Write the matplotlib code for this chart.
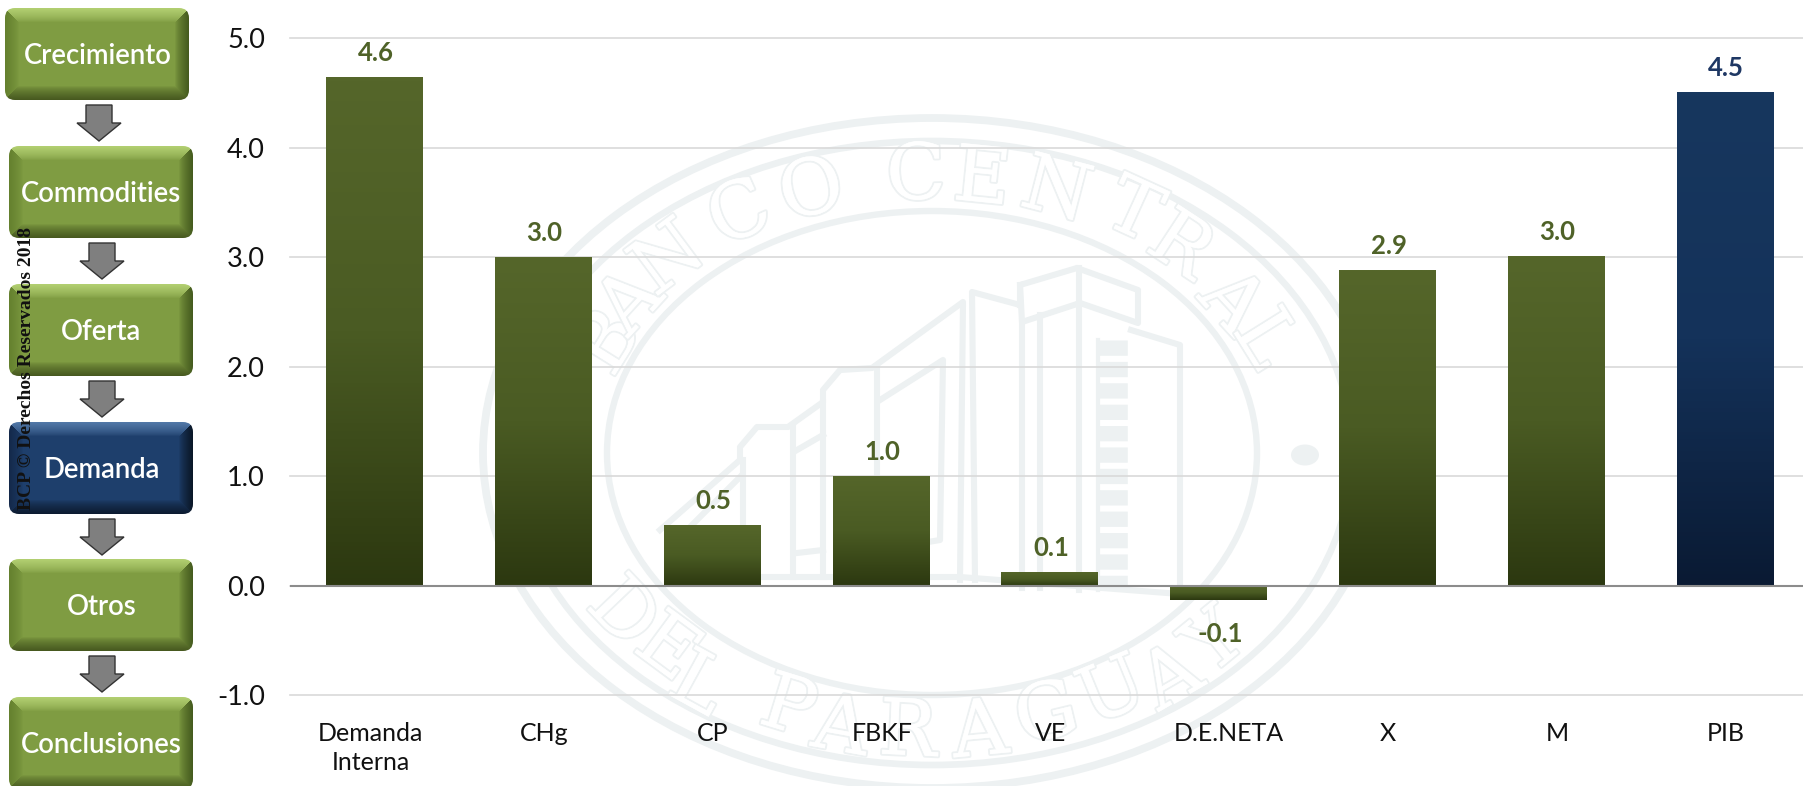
import numpy as np
import matplotlib
matplotlib.use("Agg")
import matplotlib.pyplot as plt
import matplotlib.patheffects as pe
from matplotlib.patches import Ellipse, FancyBboxPatch, Polygon
from matplotlib.colors import LinearSegmentedColormap, to_rgb
from matplotlib.transforms import ScaledTranslation

# ---- data ----
categories = ["Demanda\nInterna", "CHg", "CP", "FBKF", "VE", "D.E.NETA", "X", "M", "PIB"]
values = [4.64, 3.00, 0.55, 1.00, 0.12, -0.13, 2.88, 3.01, 4.51]
value_labels = ["4.6", "3.0", "0.5", "1.0", "0.1", "-0.1", "2.9", "3.0", "4.5"]
highlight = ["PIB"]
yticks = [-1, 0, 1, 2, 3, 4, 5]
nav_labels = ["Crecimiento", "Commodities", "Oferta", "Demanda", "Otros", "Conclusiones"]
nav_active = "Demanda"

W, H = 1803, 786
FONT = "Lato"
plt.rcParams["font.family"] = [FONT, "DejaVu Sans"]
fig = plt.figure(figsize=(W / 100, H / 100), dpi=100, facecolor="white")


def add_px_axes(z):
    a = fig.add_axes([0, 0, 1, 1], zorder=z)
    a.set_xlim(0, W)
    a.set_ylim(H, 0)
    a.axis("off")
    return a


# ---- seal watermark ----
bg = add_px_axes(0)
SEAL = "#EDF1F2"
cx, cy = 932, 453
for rx, ry, lw in [(449, 335, 5.6), (420, 312, 4.8), (325, 242, 4.6)]:
    bg.add_patch(Ellipse((cx, cy), 2 * rx, 2 * ry, fill=False, ec=SEAL, lw=lw))
bg.add_patch(Ellipse((1305, 455), 28, 21, fc=SEAL, ec="none"))

top_letters = [("B", 609, 343), ("A", 631, 303), ("N", 669, 260), ("C", 740, 215), ("O", 812, 192), ("C", 916, 177),
               ("E", 982, 180), ("N", 1056, 192), ("T", 1133, 213), ("R", 1180, 247), ("A", 1231, 303), ("L", 1264, 340)]
bottom_letters = [("D", 622, 614), ("E", 667, 649), ("L", 698, 686), ("P", 788, 709), ("A", 841, 729), ("R", 908, 733),
                  ("A", 980, 733), ("G", 1047, 716), ("U", 1113, 693), ("A", 1172, 679), ("Y", 1216, 643)]


def letter(ch, x, y, top):
    nx, ny = (x - cx) / 375 ** 2, (cy - y) / 277 ** 2
    rot = np.degrees(np.arctan2(ny, nx)) + (-90 if top else 90)
    bg.text(x, y, ch, family="DejaVu Serif", fontsize=56, color="white", rotation=rot,
            rotation_mode="anchor", ha="center", va="center",
            path_effects=[pe.withStroke(linewidth=2.8, foreground=SEAL), pe.Normal()])


for ch, x, y in top_letters:
    letter(ch, x, y, True)
for ch, x, y in bottom_letters:
    letter(ch, x, y, False)

building = [
    [(660, 530), (740, 460), (740, 447), (757, 427), (788, 427), (823, 402), (823, 390), (840, 370), (872, 368), (963, 302), (960, 580)],
    [(672, 545), (740, 477)],
    [(975, 580), (972, 292), (1020, 305)],
    [(1020, 305), (1020, 285), (1077, 268), (1138, 290), (1138, 323), (1080, 303), (1022, 322), (1020, 285)],
    [(1079, 268), (1079, 590)],
    [(1022, 322), (1022, 588)],
    [(1040, 315), (1040, 588)],
    [(1131, 330), (1180, 345), (1180, 596)],
    [(877, 367), (877, 577)],
    [(880, 400), (943, 360), (940, 540), (880, 550)],
    [(793, 427), (793, 577)],
    [(823, 403), (823, 577)],
    [(797, 450), (823, 435)],
    [(797, 553), (823, 550)],
    [(743, 460), (743, 580)],
    [(763, 577), (960, 577), (1180, 594)],
]
for b in building:
    bg.plot([p[0] for p in b], [p[1] for p in b], color=SEAL, lw=4.4, solid_joinstyle="round")
bg.plot([1112, 1112], [340, 590], color=SEAL, lw=22, dashes=(0.5, 0.2), dash_capstyle="butt")
bg.plot([1098, 1098], [340, 590], color=SEAL, lw=3)
bg.set_xlim(0, W)
bg.set_ylim(H, 0)

# ---- chart ----
L, R, T, B = 290, W, 38, 695
ax = fig.add_axes([L / W, 1 - B / H, (R - L) / W, (B - T) / H], zorder=1)
ax.patch.set_alpha(0)
step = 168.8
xl = (-0.5, (R - L) / step - 0.5)
ax.set_xlim(*xl)
ax.set_ylim(-1, 5)
for s in ax.spines.values():
    s.set_visible(False)
ax.set_yticks(yticks)
ax.set_yticklabels([f"{v:.1f}" for v in yticks], fontsize=19.5, color="#111111")
ax.tick_params(axis="y", length=0, pad=18)
x = np.arange(len(categories))
ax.set_xticks(x)
ax.set_xticklabels(categories, fontsize=18, color="#111111", linespacing=1.3)
ax.tick_params(axis="x", length=0, pad=19.5)
ax.set_axisbelow(True)
ax.grid(axis="y", color="#D9D9D9", lw=1.2, clip_on=False)

label_shift_px = {"Demanda\nInterna": -4, "D.E.NETA": 10}
for tl, cat in zip(ax.get_xticklabels(), categories):
    dx = label_shift_px.get(cat, 1)
    tl.set_transform(tl.get_transform() + ScaledTranslation(dx / 100, 0, fig.dpi_scale_trans))

green = LinearSegmentedColormap.from_list("g", ["#55662A", "#4A5B23", "#2C3810"])
blue = LinearSegmentedColormap.from_list("b", ["#17375E", "#14325A", "#0A1A33"])
grad = np.linspace(0, 1, 128).reshape(-1, 1)
bars = ax.bar(x, values, width=0.572, color="none", zorder=3)
for bar, cat, lab, v in zip(bars, categories, value_labels, values):
    hi = cat in highlight
    x0, w = bar.get_x(), bar.get_width()
    top, bot = max(v, 0), min(v, 0)
    ax.imshow(grad, extent=(x0, x0 + w, bot, top), origin="upper", aspect="auto",
              cmap=blue if hi else green, zorder=3)
    ax.annotate(lab, (x0 + w / 2, v), xytext=(1, 24 * .72 if v >= 0 else -34 * .72),
                textcoords="offset points", ha="center", va="center", fontsize=18.5, fontweight="bold",
                color="#1F3864" if hi else "#4F6228", zorder=5)
ax.axhline(0, color="#8C8C8C", lw=1.5, zorder=4)
ax.set_xlim(*xl)
ax.set_ylim(-1, 5)

# ---- navigation column ----
fg = add_px_axes(2)
tops = [8, 146, 284, 422, 559, 697]
lefts = [5, 9, 9, 9, 9, 9]
bw, bh, bev = 184, 92, 14


def bevel_image(face, t, b, l, r):
    yy, xx = np.mgrid[0:bh, 0:bw] + 0.5
    d = np.stack([yy, bh - yy, xx, bw - xx])
    idx, dm = d.argmin(0), d.min(0)
    targets = np.array([to_rgb(t), to_rgb(b), to_rgb(l), to_rgb(r)])
    f = np.array(to_rgb(face))
    k = np.clip(1 - dm / bev, 0, 1) ** 0.7
    return f + (targets[idx] - f) * k[..., None]


for i, (lab, t, l) in enumerate(zip(nav_labels, tops, lefts)):
    act = lab == nav_active
    if act:
        face, cols = "#1E3F6C", ("#5379A8", "#0C1B30", "#14294A", "#0A1626")
    else:
        face, cols = "#7F9C42", ("#B3D072", "#46581F", "#64802E", "#445A1E")
    box = FancyBboxPatch((l + 8, t + 8), bw - 16, bh - 16, boxstyle="round,pad=8,rounding_size=10",
                         fc="none", ec="none", zorder=1)
    fg.add_patch(box)
    im = fg.imshow(bevel_image(face, *cols), extent=(l, l + bw, t + bh, t), aspect="auto",
                   interpolation="bilinear", zorder=2)
    im.set_clip_path(box)
    fg.text(l + bw / 2 + 0.5, t + bh / 2 + 2, lab, color="white", fontsize=19.8, ha="center", va="center", zorder=3,
            fontweight="semibold")
    if i < len(tops) - 1:
        ac = l + bw / 2 + (2 if i == 0 else 1)
        y0 = t + bh + 5
        fg.add_patch(Polygon([(ac - 13, y0), (ac + 13, y0), (ac + 13, y0 + 18), (ac + 22, y0 + 18), (ac, y0 + 36),
                              (ac - 22, y0 + 18), (ac - 13, y0 + 18)], fc="#7F7F7F", ec="#333333", lw=1.0, zorder=2))
fg.set_xlim(0, W)
fg.set_ylim(H, 0)

fg.text(27, 369, "BCP © Derechos Reservados 2018", rotation=90, family="Liberation Serif", fontweight="bold",
        fontsize=14, color="#111111", ha="center", va="center", zorder=5)

fig.savefig("out.png", dpi=100)
